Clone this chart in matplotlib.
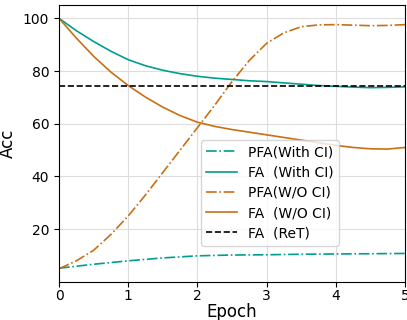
import numpy as np
import matplotlib
matplotlib.use("Agg")
import matplotlib.pyplot as plt

# values
epoch = [0, 0.25, 0.5, 0.75, 1, 1.25, 1.5, 1.75, 2, 2.25, 2.5,
         2.75, 3, 3.25, 3.5, 3.75, 4, 4.25, 4.5, 4.75, 5]
fa_with_ci = [100, 95.3, 91.2, 87.5, 84.3, 82, 80.3, 79, 78, 77.3, 76.8,
              76.3, 76, 75.5, 75, 74.5, 74.2, 73.9, 73.7, 73.8, 74]
fa_wo_ci = [100, 92.5, 85.6, 79.6, 74.5, 70.1, 66.3, 63.1, 60.6, 59, 57.8,
            56.8, 55.8, 54.8, 53.8, 52.8, 51.8, 51, 50.5, 50.4, 51]
pfa_wo_ci = [5, 8, 12, 18, 25, 33, 41.5, 50, 58.5, 67, 76,
             84, 90.5, 94.5, 96.8, 97.5, 97.6, 97.4, 97.2, 97.3, 97.6]
pfa_epoch = [0, 0.5, 1, 1.5, 2, 2.5, 3, 3.5, 4, 4.5, 5]
pfa_with_ci = [5.2, 6.7, 8, 9.1, 9.9, 10.2, 10.3, 10.5, 10.6, 10.7, 10.8]
ret_value = 74.5

TEAL = "#009e8c"
ORANGE = "#c96f14"

fig = plt.figure(figsize=(4.07, 3.2), dpi=100)
ax = fig.add_axes([0.145, 0.119, 0.85, 0.865])

ax.plot(pfa_epoch, pfa_with_ci, color=TEAL, linestyle="-.", lw=1.2, label="PFA(With CI)")
ax.plot(epoch, fa_with_ci, color=TEAL, linestyle="-", lw=1.2, label="FA  (With CI)")
ax.plot(epoch, pfa_wo_ci, color=ORANGE, linestyle="-.", lw=1.2, label="PFA(W/O CI)")
ax.plot(epoch, fa_wo_ci, color=ORANGE, linestyle="-", lw=1.2, label="FA  (W/O CI)")
ax.axhline(ret_value, color="black", linestyle="--", lw=1.2, label="FA  (ReT)")

ax.set_xlim(0, 5)
ax.set_ylim(0, 105)
ax.set_xticks([0, 1, 2, 3, 4, 5])
ax.set_yticks([20, 40, 60, 80, 100])
ax.tick_params(labelsize=10)
ax.tick_params(axis="x", pad=1.5)
ax.grid(True, color="#dddddd", lw=0.8)
ax.set_axisbelow(True)

ax.set_xlabel("Epoch", fontsize=12, labelpad=0)
ax.set_ylabel("Acc", fontsize=12)

ax.legend(loc="lower right", bbox_to_anchor=(0.83, 0.105), fontsize=10,
          handlelength=2.2, borderpad=0.4, labelspacing=0.45)

fig.savefig("out.png", dpi=100)
